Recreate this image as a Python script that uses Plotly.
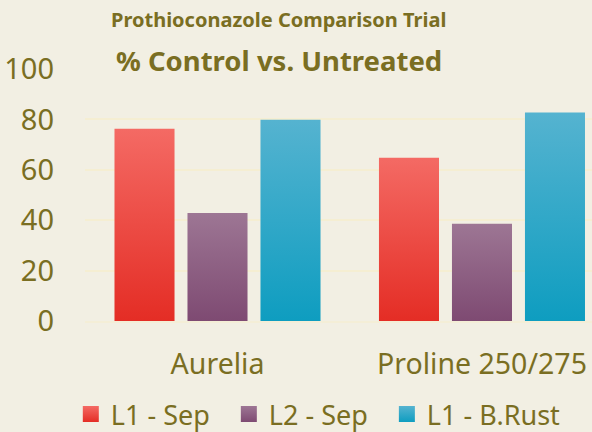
import plotly.graph_objects as go

categories = ["Aurelia", "Proline 250/275"]
series_names = ["L1 - Sep", "L2 - Sep", "L1 - B.Rust"]
l1_sep = [76.3, 64.8]
l2_sep = [42.9, 38.6]
l1_brust = [79.9, 82.7]
y_ticks = [0, 20, 40, 60, 80, 100]

series_values = [l1_sep, l2_sep, l1_brust]
grad = [("#e42d25", "#f46a64"), ("#7e4a72", "#9d7694"), ("#0e9dc0", "#55b3d0")]

TEXT = "#7a6e22"
BG = "#f2efe3"
FONT = "Noto Sans"

slot = 0.276
bar_w = 0.227
PAD = "\u00a0\u00a0"

fig = go.Figure()
for si, (name, vals) in enumerate(zip(series_names, series_values)):
    off = (si - 1) * slot
    for ci, v in enumerate(vals):
        x0 = ci + off - bar_w / 2
        x1 = ci + off + bar_w / 2
        fig.add_trace(go.Scatter(
            x=[x0, x1, x1, x0, x0], y=[0, 0, v, v, 0],
            mode="none", fill="toself",
            fillgradient=dict(type="vertical",
                              colorscale=[[0, grad[si][0]], [1, grad[si][1]]]),
            showlegend=False, hoverinfo="skip", name=name))
    fig.add_trace(go.Scatter(
        x=[None], y=[None], mode="markers",
        name=name + (PAD if si < len(series_names) - 1 else ""),
        marker=dict(symbol="square", size=16, color=grad[si][1],
                    gradient=dict(type="vertical", color=grad[si][0]))))

fig.update_layout(
    width=592, height=432,
    paper_bgcolor=BG, plot_bgcolor=BG,
    margin=dict(l=85, r=0, t=69, b=111, autoexpand=False),
    font=dict(family=FONT, color=TEXT),
    showlegend=True,
    legend=dict(orientation="h", x=-0.028, xanchor="left", y=-0.274, yanchor="top",
                font=dict(size=27, color=TEXT, family=FONT),
                itemwidth=30, bgcolor="rgba(0,0,0,0)"),
    xaxis=dict(range=[-0.501, 1.416], tickvals=[0, 1], ticktext=categories,
               showgrid=False, zeroline=False, ticks="",
               showline=True, linecolor="rgba(245,236,205,0.55)", linewidth=2,
               layer="above traces",
               tickfont=dict(size=28.5, color=TEXT, family=FONT),
               ticklabelstandoff=17, fixedrange=True),
    yaxis=dict(range=[0, 100], tickvals=y_ticks,
               showgrid=True, gridcolor="#f5eed2", gridwidth=1.5,
               zeroline=False, showline=False, ticks="",
               tickfont=dict(size=29, color=TEXT, family=FONT),
               ticklabelstandoff=30, fixedrange=True),
)

fig.add_annotation(text="<b>Prothioconazole Comparison Trial</b>", xref="paper", yref="paper",
                   x=(278 - 85) / 507, y=(321 - 19) / 252, xanchor="center", yanchor="middle",
                   showarrow=False, font=dict(size=20, color=TEXT, family=FONT))
fig.add_annotation(text="<b>% Control vs. Untreated</b>", xref="paper", yref="paper",
                   x=(279 - 85) / 507, y=(321 - 61) / 252, xanchor="center", yanchor="middle",
                   showarrow=False, font=dict(size=27.5, color=TEXT, family=FONT))

fig.write_html("out.html", config={"displayModeBar": False},
               post_script="document.body.style.margin='0';document.body.style.overflow='hidden';")
